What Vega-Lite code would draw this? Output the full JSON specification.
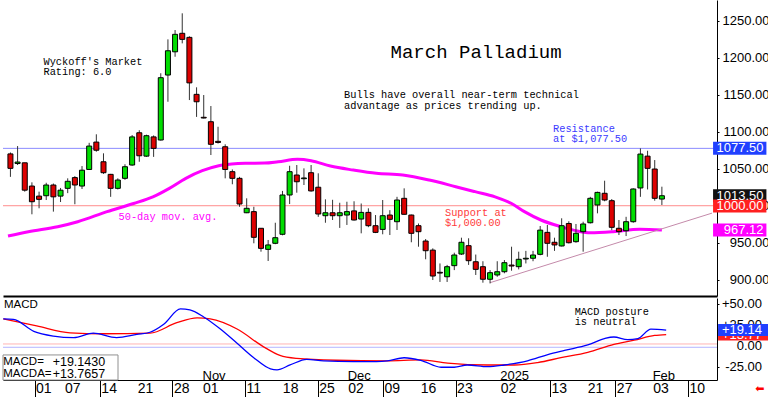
{
  "$schema": "https://vega.github.io/schema/vega-lite/v6.json",
  "padding": 0,
  "background": "white",
  "bounds": "flush",
  "spacing": 2,
  "config": {
    "view": {"stroke": null},
    "axis": {"grid": false, "title": null, "labelFont": "Liberation Sans", "labelFontSize": 13, "labelColor": "#000", "tickColor": "#000", "domainColor": "#000", "labelOverlap": false},
    "text": {"font": "Liberation Mono"}
  },
  "datasets": {
    "one": [{}],
    "candles": [
      {"t":-4,"o":1070,"h":1072,"l":1039,"c":1050.5},
      {"t":-3,"o":1057,"h":1080.6,"l":1055,"c":1059},
      {"t":-2,"o":1058,"h":1058,"l":1019,"c":1021},
      {"t":-1,"o":1026.6,"h":1031.6,"l":988.4,"c":1005.4},
      {"t":0,"o":1013,"h":1019,"l":996.5,"c":1008.6},
      {"t":1,"o":1013.5,"h":1031,"l":1007.7,"c":1028},
      {"t":2,"o":1028,"h":1030,"l":992,"c":1012},
      {"t":3,"o":1013,"h":1024,"l":1005,"c":1021},
      {"t":4,"o":1023.5,"h":1037,"l":1017,"c":1033},
      {"t":5,"o":1038,"h":1040,"l":1002,"c":1028},
      {"t":6,"o":1026.6,"h":1053.6,"l":1022.6,"c":1048},
      {"t":7,"o":1049,"h":1085,"l":1049,"c":1080.6},
      {"t":8,"o":1086,"h":1096.5,"l":1073,"c":1075},
      {"t":9,"o":1059.4,"h":1070.8,"l":1043,"c":1044.6},
      {"t":10,"o":1042.4,"h":1043,"l":1012,"c":1023.5},
      {"t":11,"o":1023.5,"h":1037,"l":1022,"c":1034.7},
      {"t":12,"o":1037,"h":1056,"l":1035,"c":1052.7},
      {"t":13,"o":1055,"h":1095.5,"l":1054,"c":1093},
      {"t":14,"o":1098.6,"h":1102,"l":1059.4,"c":1067.5},
      {"t":15,"o":1067,"h":1096,"l":1066,"c":1094.6},
      {"t":16,"o":1093,"h":1095,"l":1066,"c":1077.5},
      {"t":17,"o":1088.8,"h":1179,"l":1088,"c":1173},
      {"t":18,"o":1176.6,"h":1224.8,"l":1140.5,"c":1209.4},
      {"t":19,"o":1208,"h":1237.4,"l":1201.3,"c":1231.6},
      {"t":20,"o":1233,"h":1260,"l":1219.4,"c":1224.8},
      {"t":21,"o":1227.5,"h":1229,"l":1142.8,"c":1166},
      {"t":22,"o":1150.5,"h":1160,"l":1120,"c":1140.5},
      {"t":23,"o":1119.5,"h":1149.6,"l":1118,"c":1118.5},
      {"t":24,"o":1113.5,"h":1134.7,"l":1068.5,"c":1083},
      {"t":25,"o":1087,"h":1106.7,"l":1084,"c":1085.5},
      {"t":26,"o":1079.7,"h":1083,"l":1037,"c":1049},
      {"t":27,"o":1046,"h":1049,"l":1029,"c":1037},
      {"t":28,"o":1037,"h":1039,"l":998.6,"c":1002.3},
      {"t":29,"o":990.5,"h":1010,"l":990,"c":996.5},
      {"t":30,"o":992,"h":998.6,"l":949.2,"c":957.3},
      {"t":31,"o":969.5,"h":969.5,"l":937.9,"c":942.4},
      {"t":32,"o":941,"h":953.7,"l":925.3,"c":947},
      {"t":33,"o":949.2,"h":977,"l":948,"c":956.8},
      {"t":34,"o":961.4,"h":1020,"l":960,"c":1014.5},
      {"t":35,"o":1014.5,"h":1054,"l":1002.3,"c":1046},
      {"t":36,"o":1041.5,"h":1055,"l":1017.6,"c":1032.4},
      {"t":37,"o":1036.5,"h":1050.5,"l":1028,"c":1037.5},
      {"t":38,"o":1044.6,"h":1055,"l":1019,"c":1020},
      {"t":39,"o":1025,"h":1043.8,"l":985,"c":988.8},
      {"t":40,"o":986.5,"h":1008.6,"l":977,"c":990.5},
      {"t":41,"o":990.5,"h":1008,"l":980.7,"c":986.5},
      {"t":42,"o":986.5,"h":1004,"l":970,"c":990.5},
      {"t":43,"o":987.4,"h":1005.4,"l":974,"c":992},
      {"t":44,"o":993,"h":1006,"l":980,"c":980.7},
      {"t":45,"o":982,"h":1003,"l":962.7,"c":991},
      {"t":46,"o":991,"h":996.5,"l":971,"c":973},
      {"t":47,"o":973,"h":987.4,"l":963,"c":964},
      {"t":48,"o":968,"h":1007.7,"l":961.4,"c":986.5},
      {"t":49,"o":987.4,"h":994,"l":960.4,"c":981.6},
      {"t":50,"o":978.4,"h":1012,"l":967.2,"c":1007.7},
      {"t":51,"o":1010,"h":1023.5,"l":988,"c":988.4},
      {"t":52,"o":987.4,"h":988,"l":950.6,"c":962.7},
      {"t":53,"o":973,"h":976,"l":944.6,"c":964.9},
      {"t":54,"o":952.3,"h":955,"l":927.6,"c":939.2},
      {"t":55,"o":940,"h":942.4,"l":899.6,"c":905},
      {"t":56,"o":910,"h":922,"l":897,"c":909},
      {"t":57,"o":904,"h":920,"l":897,"c":917.6},
      {"t":58,"o":919,"h":936.5,"l":913,"c":933.4},
      {"t":59,"o":934.7,"h":956.8,"l":933.4,"c":950.6},
      {"t":60,"o":946,"h":956,"l":920,"c":925.7},
      {"t":61,"o":924.3,"h":934,"l":906.4,"c":914},
      {"t":62,"o":917.6,"h":925,"l":896,"c":900.6},
      {"t":63,"o":900.6,"h":913,"l":895,"c":909.5},
      {"t":64,"o":906.4,"h":925,"l":904,"c":910.8},
      {"t":65,"o":910.8,"h":926.6,"l":908.7,"c":923},
      {"t":66,"o":919.8,"h":944.6,"l":912.2,"c":918.5},
      {"t":67,"o":917.6,"h":937.9,"l":914,"c":927.6},
      {"t":68,"o":928,"h":939,"l":922,"c":929},
      {"t":69,"o":929,"h":939,"l":925,"c":933.4},
      {"t":70,"o":934.3,"h":972.6,"l":933,"c":967},
      {"t":71,"o":964,"h":974,"l":931,"c":949.2},
      {"t":72,"o":950.6,"h":956.8,"l":939,"c":947},
      {"t":73,"o":945.6,"h":983,"l":945,"c":973},
      {"t":74,"o":976,"h":979,"l":949,"c":950},
      {"t":75,"o":951.4,"h":975.3,"l":950,"c":962.7},
      {"t":76,"o":964.9,"h":978.4,"l":937.9,"c":975.3},
      {"t":77,"o":977,"h":1012,"l":976,"c":1010},
      {"t":78,"o":1001,"h":1019,"l":989.7,"c":1018},
      {"t":79,"o":1016.8,"h":1033.8,"l":1006,"c":1007.7},
      {"t":80,"o":1006.8,"h":1009,"l":967,"c":970.8},
      {"t":81,"o":969.5,"h":980.7,"l":960.4,"c":965},
      {"t":82,"o":966.2,"h":985,"l":959,"c":978.4},
      {"t":83,"o":978.4,"h":1023.5,"l":977,"c":1022.6},
      {"t":84,"o":1024,"h":1077.5,"l":1012,"c":1069.8},
      {"t":85,"o":1067,"h":1074.3,"l":1022,"c":1050.5},
      {"t":86,"o":1049.6,"h":1061.7,"l":1006.8,"c":1010},
      {"t":87,"o":1009,"h":1025.7,"l":1001,"c":1013.5}
    ],
    "ma": [
      {"t":-4.34,"p":959},{"t":-1.5,"p":964.9},{"t":2.6,"p":971.6},{"t":5.4,"p":978.4},{"t":9.5,"p":992},
      {"t":13.2,"p":1003},{"t":15.9,"p":1012},{"t":18.2,"p":1023.5},{"t":20.5,"p":1037},{"t":22.8,"p":1047.3},
      {"t":25.1,"p":1054},{"t":26.9,"p":1056.3},{"t":28.8,"p":1057.3},{"t":31.5,"p":1057.6},{"t":33.4,"p":1059.4},
      {"t":36.1,"p":1062.7},{"t":38.0,"p":1060.8},{"t":40.7,"p":1053.6},{"t":43.9,"p":1048.2},{"t":47.1,"p":1043.8},
      {"t":50.8,"p":1041.5},{"t":54.5,"p":1034.7},{"t":58.2,"p":1025.7},{"t":60.9,"p":1019},{"t":63.7,"p":1012},
      {"t":66.0,"p":1003},{"t":67.8,"p":992},{"t":70.1,"p":980.7},{"t":72.9,"p":971.6},{"t":75.2,"p":965.8},
      {"t":77.0,"p":963.5},{"t":80.2,"p":964.9},{"t":83.9,"p":968.1},{"t":87.0,"p":967.1}
    ],
    "macd": [
      {"t":-4.3,"v":32.3},{"t":-2.9,"v":31.7},{"t":-0.1,"v":17.6},{"t":2.6,"v":12.0},{"t":5.4,"v":10.1},
      {"t":8.1,"v":15.4},{"t":11.3,"v":10.1},{"t":14.1,"v":13.9},{"t":15.9,"v":16.5},{"t":17.8,"v":26.0},
      {"t":20.1,"v":44.1},{"t":21.4,"v":42.9},{"t":23.3,"v":34.6},{"t":25.6,"v":20.3},{"t":27.9,"v":3.4},
      {"t":30.2,"v":-13.7},{"t":32.5,"v":-26.9},{"t":33.4,"v":-28.0},{"t":35.2,"v":-22.3},{"t":37.5,"v":-15.6},
      {"t":39.8,"v":-17.4},{"t":43.9,"v":-18.2},{"t":47.1,"v":-18.2},{"t":48.6,"v":-17.4},{"t":50.9,"v":-13.7},
      {"t":53.2,"v":-16.7},{"t":56.0,"v":-25.0},{"t":57.8,"v":-25.0},{"t":59.6,"v":-22.3},{"t":62.4,"v":-24.3},
      {"t":64.7,"v":-22.3},{"t":67.9,"v":-17.4},{"t":70.7,"v":-9.9},{"t":73.0,"v":-5.0},{"t":76.2,"v":1.4},
      {"t":78.5,"v":9.0},{"t":79.8,"v":10.9},{"t":81.7,"v":7.8},{"t":83.1,"v":9.0},{"t":84.9,"v":20.3},{"t":87.0,"v":19.1}
    ],
    "signal": [
      {"t":-4.3,"v":32.3},{"t":0.3,"v":24.0},{"t":4.9,"v":15.8},{"t":9.5,"v":14.7},{"t":15.9,"v":15.4},
      {"t":19.6,"v":27.8},{"t":22.4,"v":33.5},{"t":24.2,"v":32.3},{"t":27.9,"v":20.3},{"t":31.5,"v":-0.5},
      {"t":33.8,"v":-11.0},{"t":36.1,"v":-14.5},{"t":41.6,"v":-16.7},{"t":48.5,"v":-17.4},{"t":53.2,"v":-16.3},
      {"t":56.9,"v":-20.1},{"t":62.4,"v":-22.3},{"t":66.1,"v":-22.3},{"t":69.3,"v":-19.4},{"t":72.5,"v":-13.7},
      {"t":76.2,"v":-7.3},{"t":79.8,"v":2.1},{"t":82.6,"v":7.1},{"t":85.4,"v":12.7},{"t":87.0,"v":13.8}
    ],
    "days": [
      {"t":0,"s":"01"},{"t":4,"s":"07"},{"t":9,"s":"14"},{"t":14,"s":"21"},{"t":19,"s":"28"},
      {"t":23,"s":"01"},{"t":29,"s":"11"},{"t":34,"s":"18"},{"t":39,"s":"25"},{"t":43,"s":"02"},
      {"t":48,"s":"09"},{"t":53,"s":"16"},{"t":58,"s":"23"},{"t":64,"s":"02"},{"t":71,"s":"13"},
      {"t":76,"s":"21"},{"t":80,"s":"27"},{"t":85,"s":"03"},{"t":90,"s":"10"}
    ],
    "macdTicks": [
      {"v":50,"s":"+50.00"},{"v":25,"s":"+25.00"},{"v":0,"s":"0.00"},{"v":-25,"s":"-25.00"}
    ]
  },
  "vconcat": [
    {
      "width": 714,
      "height": 296,
      "layer": [
        {
          "data": {"name": "one"},
          "mark": {"type": "rule", "color": "#8c8cff", "strokeWidth": 1},
          "encoding": {
            "y": {"datum": 1077.5, "type": "quantitative", "scale": {"domain": [878, 1278], "nice": false, "zero": false},
              "axis": {"orient": "right", "values": [900, 950, 1000, 1050, 1100, 1150, 1200, 1250], "format": ".2f", "tickSize": 2, "labelAlign": "right", "labelPadding": 50, "labelOverlap": false, "title": null}}
          }
        },
        {
          "data": {"name": "one"},
          "mark": {"type": "rule", "color": "#ff8c8c", "strokeWidth": 1},
          "encoding": {"y": {"datum": 1000, "type": "quantitative", "scale": {"domain": [878, 1278], "nice": false, "zero": false}}}
        },
        {
          "data": {"name": "ma"},
          "mark": {"type": "line", "color": "#ff00ff", "strokeWidth": 3, "interpolate": "monotone", "clip": true},
          "encoding": {
            "x": {"field": "t", "type": "quantitative", "scale": {"domain": [-4.34, 94.0], "nice": false, "zero": false},
              "axis": {"labels": false, "ticks": false, "domain": true, "domainWidth": 2, "domainColor": "#000", "title": null}},
            "y": {"field": "p", "type": "quantitative", "scale": {"domain": [878, 1278], "nice": false, "zero": false}}
          }
        },
        {
          "data": {"values": [{"t": 63, "p": 896}, {"t": 94, "p": 990}]},
          "mark": {"type": "line", "color": "#c48aaa", "strokeWidth": 1},
          "encoding": {
            "x": {"field": "t", "type": "quantitative", "scale": {"domain": [-4.34, 94.0], "nice": false, "zero": false}},
            "y": {"field": "p", "type": "quantitative", "scale": {"domain": [878, 1278], "nice": false, "zero": false}}
          }
        },
        {
          "data": {"name": "candles"},
          "mark": {"type": "rule", "color": "#333333", "strokeWidth": 1},
          "encoding": {
            "x": {"field": "t", "type": "quantitative", "scale": {"domain": [-4.34, 94.0], "nice": false, "zero": false}},
            "y": {"field": "l", "type": "quantitative", "scale": {"domain": [878, 1278], "nice": false, "zero": false}},
            "y2": {"field": "h"}
          }
        },
        {
          "data": {"name": "candles"},
          "mark": {"type": "bar", "size": 5, "stroke": "#000000", "strokeWidth": 1},
          "encoding": {
            "x": {"field": "t", "type": "quantitative", "scale": {"domain": [-4.34, 94.0], "nice": false, "zero": false}},
            "y": {"field": "o", "type": "quantitative", "scale": {"domain": [878, 1278], "nice": false, "zero": false}},
            "y2": {"field": "c"},
            "fill": {"condition": {"test": "datum.c >= datum.o", "value": "#00dd00"}, "value": "#dd0000"}
          }
        },
        {
          "data": {"values": [
            {"t": 0.62, "p": 1193.7, "s": "Wyckoff's Market"},
            {"t": 0.62, "p": 1180.2, "s": "Rating: 6.0"},
            {"t": 42.6, "p": 1149.6, "s": "Bulls have overall near-term technical"},
            {"t": 42.6, "p": 1134.7, "s": "advantage as prices trending up."}
          ]},
          "mark": {"type": "text", "align": "left", "baseline": "middle", "fontSize": 10.3, "color": "#000000"},
          "encoding": {
            "x": {"field": "t", "type": "quantitative", "scale": {"domain": [-4.34, 94.0], "nice": false, "zero": false}},
            "y": {"field": "p", "type": "quantitative", "scale": {"domain": [878, 1278], "nice": false, "zero": false}},
            "text": {"field": "s"}
          }
        },
        {
          "data": {"values": [{"t": 49.1, "p": 1207.2, "s": "March Palladium"}]},
          "mark": {"type": "text", "align": "left", "baseline": "middle", "fontSize": 19, "color": "#000000"},
          "encoding": {
            "x": {"field": "t", "type": "quantitative", "scale": {"domain": [-4.34, 94.0], "nice": false, "zero": false}},
            "y": {"field": "p", "type": "quantitative", "scale": {"domain": [878, 1278], "nice": false, "zero": false}},
            "text": {"field": "s"}
          }
        },
        {
          "data": {"values": [{"t": 71.8, "p": 1103.6, "s": "Resistance"}, {"t": 71.8, "p": 1090.1, "s": "at $1,077.50"}]},
          "mark": {"type": "text", "align": "left", "baseline": "middle", "fontSize": 10.3, "color": "#3a3aff"},
          "encoding": {
            "x": {"field": "t", "type": "quantitative", "scale": {"domain": [-4.34, 94.0], "nice": false, "zero": false}},
            "y": {"field": "p", "type": "quantitative", "scale": {"domain": [878, 1278], "nice": false, "zero": false}},
            "text": {"field": "s"}
          }
        },
        {
          "data": {"values": [{"t": 56.7, "p": 989.7, "s": "Support at"}, {"t": 56.7, "p": 976.2, "s": "$1,000.00"}]},
          "mark": {"type": "text", "align": "left", "baseline": "middle", "fontSize": 10.3, "color": "#ff3a3a"},
          "encoding": {
            "x": {"field": "t", "type": "quantitative", "scale": {"domain": [-4.34, 94.0], "nice": false, "zero": false}},
            "y": {"field": "p", "type": "quantitative", "scale": {"domain": [878, 1278], "nice": false, "zero": false}},
            "text": {"field": "s"}
          }
        },
        {
          "data": {"values": [{"t": 11.1, "p": 985.1, "s": "50-day mov. avg."}]},
          "mark": {"type": "text", "align": "left", "baseline": "middle", "fontSize": 10.3, "color": "#ff00ff"},
          "encoding": {
            "x": {"field": "t", "type": "quantitative", "scale": {"domain": [-4.34, 94.0], "nice": false, "zero": false}},
            "y": {"field": "p", "type": "quantitative", "scale": {"domain": [878, 1278], "nice": false, "zero": false}},
            "text": {"field": "s"}
          }
        },
        {
          "data": {"name": "one"},
          "mark": {"type": "rule", "color": "#2040ff", "strokeWidth": 13},
          "encoding": {
            "x": {"datum": 94.15, "type": "quantitative", "scale": {"domain": [-4.34, 94.0], "nice": false, "zero": false}},
            "x2": {"datum": 101.6},
            "y": {"datum": 1077.5, "type": "quantitative", "scale": {"domain": [878, 1278], "nice": false, "zero": false}}
          }
        },
        {
          "data": {"name": "one"},
          "mark": {"type": "rule", "color": "#111111", "strokeWidth": 13},
          "encoding": {
            "x": {"datum": 94.15, "type": "quantitative", "scale": {"domain": [-4.34, 94.0], "nice": false, "zero": false}},
            "x2": {"datum": 101.6},
            "y": {"datum": 1013.5, "type": "quantitative", "scale": {"domain": [878, 1278], "nice": false, "zero": false}}
          }
        },
        {
          "data": {"name": "one"},
          "mark": {"type": "rule", "color": "#ff2020", "strokeWidth": 13},
          "encoding": {
            "x": {"datum": 94.15, "type": "quantitative", "scale": {"domain": [-4.34, 94.0], "nice": false, "zero": false}},
            "x2": {"datum": 101.6},
            "y": {"datum": 999.6, "type": "quantitative", "scale": {"domain": [878, 1278], "nice": false, "zero": false}}
          }
        },
        {
          "data": {"name": "one"},
          "mark": {"type": "rule", "color": "#ff00ff", "strokeWidth": 13},
          "encoding": {
            "x": {"datum": 94.15, "type": "quantitative", "scale": {"domain": [-4.34, 94.0], "nice": false, "zero": false}},
            "x2": {"datum": 101.6},
            "y": {"datum": 967.12, "type": "quantitative", "scale": {"domain": [878, 1278], "nice": false, "zero": false}}
          }
        },
        {
          "data": {"values": [
            {"p": 1077.5, "s": "1077.50"},
            {"p": 1013.5, "s": "1013.50"},
            {"p": 999.6, "s": "1000.00"},
            {"p": 967.12, "s": "967.12"}
          ]},
          "mark": {"type": "text", "align": "right", "baseline": "middle", "font": "Liberation Sans", "fontSize": 13, "color": "#ffffff"},
          "encoding": {
            "x": {"datum": 101.2, "type": "quantitative", "scale": {"domain": [-4.34, 94.0], "nice": false, "zero": false}},
            "y": {"field": "p", "type": "quantitative", "scale": {"domain": [878, 1278], "nice": false, "zero": false}},
            "text": {"field": "s"}
          }
        }
      ]
    },
    {
      "width": 714,
      "height": 82,
      "layer": [
        {
          "data": {"name": "one"},
          "mark": {"type": "rule", "color": "#ffb4b4", "strokeWidth": 1},
          "encoding": {
            "y": {"datum": 2.6, "type": "quantitative", "scale": {"domain": [-40.1, 57.1], "nice": false, "zero": false},
              "axis": {"orient": "right", "values": [-25, 0, 25, 50], "labels": false, "tickSize": 2, "title": null}}
          }
        },
        {
          "data": {"name": "one"},
          "mark": {"type": "rule", "color": "#b4b4ff", "strokeWidth": 1},
          "encoding": {"y": {"datum": -1.3, "type": "quantitative", "scale": {"domain": [-40.1, 57.1], "nice": false, "zero": false}}}
        },
        {
          "data": {"name": "signal"},
          "mark": {"type": "line", "color": "#ff0000", "strokeWidth": 1.3, "interpolate": "monotone"},
          "encoding": {
            "x": {"field": "t", "type": "quantitative", "scale": {"domain": [-4.34, 94.0], "nice": false, "zero": false},
              "axis": {"values": [0, 4, 9, 14, 19, 23, 29, 34, 39, 43, 48, 53, 58, 64, 71, 76, 80, 85, 90], "labels": false, "tickSize": 17, "title": null}},
            "y": {"field": "v", "type": "quantitative", "scale": {"domain": [-40.1, 57.1], "nice": false, "zero": false}}
          }
        },
        {
          "data": {"name": "macd"},
          "mark": {"type": "line", "color": "#0000ff", "strokeWidth": 1.3, "interpolate": "monotone"},
          "encoding": {
            "x": {"field": "t", "type": "quantitative", "scale": {"domain": [-4.34, 94.0], "nice": false, "zero": false}},
            "y": {"field": "v", "type": "quantitative", "scale": {"domain": [-40.1, 57.1], "nice": false, "zero": false}}
          }
        },
        {
          "data": {"name": "one"},
          "mark": {"type": "rect", "fill": "#ffffff", "stroke": "#909090", "strokeWidth": 1},
          "encoding": {
            "x": {"datum": -4.34, "type": "quantitative", "scale": {"domain": [-4.34, 94.0], "nice": false, "zero": false}},
            "x2": {"datum": 11.5},
            "y": {"datum": -10.4, "type": "quantitative", "scale": {"domain": [-40.1, 57.1], "nice": false, "zero": false}},
            "y2": {"datum": -40.1}
          }
        },
        {
          "data": {"values": [{"t": -4.3, "v": -18.7, "s": "MACD="}, {"t": -4.3, "v": -33, "s": "MACDA="}, {"t": -4.2, "v": 48.8, "s": "MACD"}]},
          "mark": {"type": "text", "align": "left", "baseline": "middle", "font": "Liberation Sans", "fontSize": 11.5, "color": "#000000"},
          "encoding": {
            "x": {"field": "t", "type": "quantitative", "scale": {"domain": [-4.34, 94.0], "nice": false, "zero": false}},
            "y": {"field": "v", "type": "quantitative", "scale": {"domain": [-40.1, 57.1], "nice": false, "zero": false}},
            "text": {"field": "s"}
          }
        },
        {
          "data": {"values": [{"t": 2.5, "v": -18.7, "s": "+19.1430"}, {"t": 2.5, "v": -33, "s": "+13.7657"}]},
          "mark": {"type": "text", "align": "left", "baseline": "middle", "font": "Liberation Sans", "fontSize": 12.5, "color": "#000000"},
          "encoding": {
            "x": {"field": "t", "type": "quantitative", "scale": {"domain": [-4.34, 94.0], "nice": false, "zero": false}},
            "y": {"field": "v", "type": "quantitative", "scale": {"domain": [-40.1, 57.1], "nice": false, "zero": false}},
            "text": {"field": "s"}
          }
        },
        {
          "data": {"values": [{"t": 74.4, "v": 40.9, "s": "MACD posture"}, {"t": 74.4, "v": 28.3, "s": "is neutral"}]},
          "mark": {"type": "text", "align": "left", "baseline": "middle", "fontSize": 10.3, "color": "#000000"},
          "encoding": {
            "x": {"field": "t", "type": "quantitative", "scale": {"domain": [-4.34, 94.0], "nice": false, "zero": false}},
            "y": {"field": "v", "type": "quantitative", "scale": {"domain": [-40.1, 57.1], "nice": false, "zero": false}},
            "text": {"field": "s"}
          }
        },
        {
          "data": {"values": [{"t": 23, "s": "Nov"}, {"t": 43, "s": "Dec"}, {"t": 64, "s": "2025"}, {"t": 85, "s": "Feb"}]},
          "mark": {"type": "text", "align": "left", "baseline": "middle", "dx": 1, "font": "Liberation Sans", "fontSize": 13, "color": "#000000"},
          "encoding": {
            "x": {"field": "t", "type": "quantitative", "scale": {"domain": [-4.34, 94.0], "nice": false, "zero": false}},
            "y": {"datum": -35.3, "type": "quantitative", "scale": {"domain": [-40.1, 57.1], "nice": false, "zero": false}},
            "text": {"field": "s"}
          }
        },
        {
          "data": {"name": "days"},
          "mark": {"type": "text", "align": "left", "baseline": "middle", "dx": 1.5, "font": "Liberation Sans Narrow, Liberation Sans", "fontSize": 14, "color": "#000000"},
          "encoding": {
            "x": {"field": "t", "type": "quantitative", "scale": {"domain": [-4.34, 94.0], "nice": false, "zero": false}},
            "y": {"datum": -50.7, "type": "quantitative", "scale": {"domain": [-40.1, 57.1], "nice": false, "zero": false}},
            "text": {"field": "s"}
          }
        },
        {
          "data": {"name": "macdTicks"},
          "mark": {"type": "text", "align": "right", "baseline": "middle", "font": "Liberation Sans", "fontSize": 13, "color": "#000000"},
          "encoding": {
            "x": {"datum": 100.2, "type": "quantitative", "scale": {"domain": [-4.34, 94.0], "nice": false, "zero": false}},
            "y": {"field": "v", "type": "quantitative", "scale": {"domain": [-40.1, 57.1], "nice": false, "zero": false}},
            "text": {"field": "s"}
          }
        },
        {
          "data": {"name": "one"},
          "mark": {"type": "rule", "color": "#ff2020", "strokeWidth": 12},
          "encoding": {
            "x": {"datum": 94.15, "type": "quantitative", "scale": {"domain": [-4.34, 94.0], "nice": false, "zero": false}},
            "x2": {"datum": 101.6},
            "y": {"datum": 13.77, "type": "quantitative", "scale": {"domain": [-40.1, 57.1], "nice": false, "zero": false}}
          }
        },
        {
          "data": {"values": [{"v": 13.77, "s": "+13.77"}]},
          "mark": {"type": "text", "align": "right", "baseline": "middle", "font": "Liberation Sans", "fontSize": 13, "color": "#ffffff"},
          "encoding": {
            "x": {"datum": 100.2, "type": "quantitative", "scale": {"domain": [-4.34, 94.0], "nice": false, "zero": false}},
            "y": {"field": "v", "type": "quantitative", "scale": {"domain": [-40.1, 57.1], "nice": false, "zero": false}},
            "text": {"field": "s"}
          }
        },
        {
          "data": {"name": "one"},
          "mark": {"type": "rule", "color": "#2040ff", "strokeWidth": 12},
          "encoding": {
            "x": {"datum": 94.15, "type": "quantitative", "scale": {"domain": [-4.34, 94.0], "nice": false, "zero": false}},
            "x2": {"datum": 101.6},
            "y": {"datum": 19.14, "type": "quantitative", "scale": {"domain": [-40.1, 57.1], "nice": false, "zero": false}}
          }
        },
        {
          "data": {"values": [{"v": 19.14, "s": "+19.14"}]},
          "mark": {"type": "text", "align": "right", "baseline": "middle", "font": "Liberation Sans", "fontSize": 13, "color": "#ffffff"},
          "encoding": {
            "x": {"datum": 100.2, "type": "quantitative", "scale": {"domain": [-4.34, 94.0], "nice": false, "zero": false}},
            "y": {"field": "v", "type": "quantitative", "scale": {"domain": [-40.1, 57.1], "nice": false, "zero": false}},
            "text": {"field": "s"}
          }
        },
        {
          "data": {"values": [{"s": "⬅"}]},
          "mark": {"type": "text", "align": "center", "baseline": "middle", "font": "DejaVu Sans", "fontSize": 11, "color": "#ff0000"},
          "encoding": {
            "x": {"datum": 99.9, "type": "quantitative", "scale": {"domain": [-4.34, 94.0], "nice": false, "zero": false}},
            "y": {"datum": -50.7, "type": "quantitative", "scale": {"domain": [-40.1, 57.1], "nice": false, "zero": false}},
            "text": {"field": "s"}
          }
        }
      ]
    }
  ]
}
